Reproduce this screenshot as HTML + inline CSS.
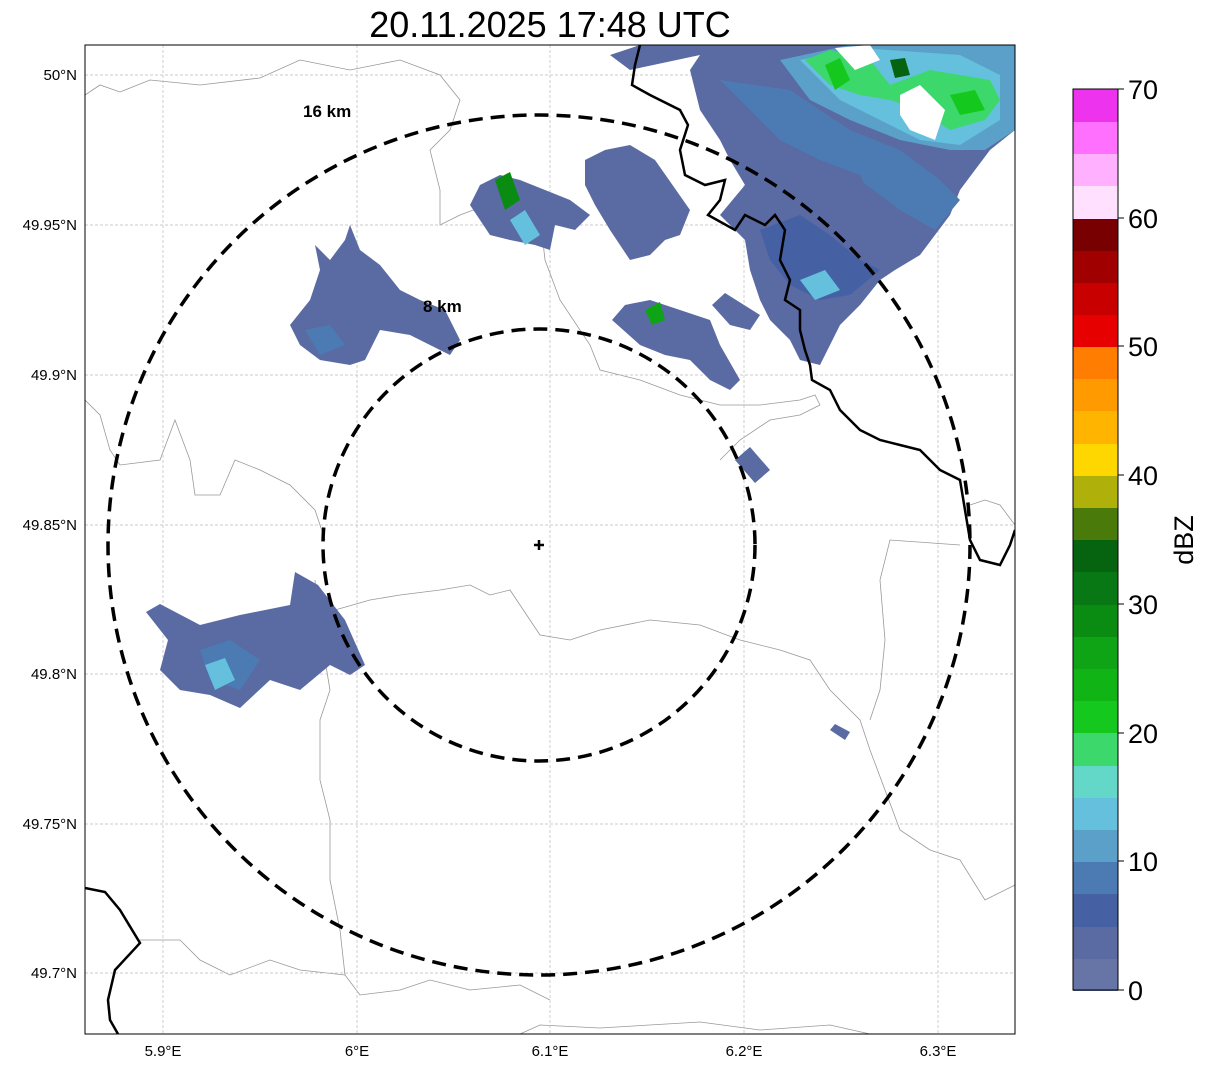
<!DOCTYPE html>
<html><head><style>
body{margin:0;background:#fff;}
svg{display:block;font-family:"Liberation Sans","DejaVu Sans",sans-serif;}
</style></head><body>
<svg width="1207" height="1069" viewBox="0 0 1207 1069" xmlns="http://www.w3.org/2000/svg">
<rect width="1207" height="1069" fill="#fff"/>
<text x="550" y="37" font-size="36" text-anchor="middle">20.11.2025 17:48 UTC</text>
<defs><clipPath id="c"><rect x="85" y="45" width="930" height="989"/></clipPath></defs>
<g clip-path="url(#c)">
<!-- thin borders -->
<g fill="none" stroke="#999" stroke-width="0.8">
<path d="M85,95 L100,85 120,92 150,80 200,85 260,78 300,60 350,70 400,60 440,75 460,100 450,130 430,150 440,190 440,225 460,215 500,200 540,215 545,260 560,300 590,345 600,370 640,380 680,395 720,405 760,405 800,400 815,395 820,405"/>
<path d="M85,400 L100,415 110,450 120,465 160,460 175,420 190,460 195,495 220,495 235,460 260,470 290,485 315,510 325,540"/>
<path d="M335,610 L370,600 400,595 440,590 470,585 490,595 510,590 520,605 540,635 570,640 600,630 650,620 700,625 740,640 780,650 810,660 830,690 860,720 870,750 885,790 900,830 930,850 960,860 985,900 1015,885"/>
<path d="M315,580 L320,630 330,690 320,720 320,780 330,820 330,880 340,930 345,975 360,995 400,990 430,980 470,990 520,985 550,1000"/>
<path d="M140,940 L180,940 200,960 230,975 270,960 300,970 345,975"/>
<path d="M720,460 L740,440 770,420 800,415 820,405"/>
<path d="M870,720 L880,690 885,640 880,580 890,540 960,545"/>
<path d="M520,1034 L540,1025 600,1028 700,1022 760,1030 830,1025 870,1034"/>
<path d="M1015,525 L1000,505 985,500 970,505"/>
</g>
<!-- gridlines -->
<g stroke="#bbb" stroke-width="0.7" stroke-dasharray="3,2">
<line x1="163" y1="45" x2="163" y2="1034"/><line x1="357" y1="45" x2="357" y2="1034"/><line x1="550" y1="45" x2="550" y2="1034"/><line x1="744" y1="45" x2="744" y2="1034"/><line x1="938" y1="45" x2="938" y2="1034"/>
<line x1="85" y1="75" x2="1015" y2="75"/><line x1="85" y1="225" x2="1015" y2="225"/><line x1="85" y1="375" x2="1015" y2="375"/><line x1="85" y1="525" x2="1015" y2="525"/><line x1="85" y1="674" x2="1015" y2="674"/><line x1="85" y1="824" x2="1015" y2="824"/><line x1="85" y1="973" x2="1015" y2="973"/>
</g>
<!-- echoes -->
<g>
<polygon fill="#5a6aa3" points="146,612 160,604 200,625 240,615 290,605 295,572 318,585 345,620 365,665 350,675 330,665 300,690 270,680 240,708 210,695 180,690 160,670 168,640"/>
<polygon fill="#4c7bb3" points="200,650 230,640 260,660 240,690 210,680"/>
<polygon fill="#64c0dc" points="205,665 225,658 235,680 215,690"/>
<polygon fill="#5a6aa3" points="290,325 310,300 320,270 315,245 330,260 345,240 350,225 360,250 380,265 400,290 420,300 445,310 460,340 450,355 430,345 410,335 380,330 365,360 350,365 320,360 300,345"/>
<polygon fill="#4c7bb3" points="305,330 330,325 345,345 320,355"/>
<polygon fill="#5a6aa3" points="470,205 480,185 500,175 520,180 545,190 570,200 590,215 575,230 555,225 550,250 535,245 510,240 490,235"/>
<polygon fill="#64c0dc" points="510,220 525,210 540,235 525,245"/>
<polygon fill="#0a8c12" points="495,180 510,172 520,200 505,210"/>
<polygon fill="#5a6aa3" points="585,160 605,150 630,145 655,160 690,210 680,235 665,240 650,255 630,260 610,230 595,205 585,185"/>
<polygon fill="#5a6aa3" points="612,320 625,305 650,300 680,310 710,320 720,345 740,380 730,390 710,380 690,360 665,355 640,345"/>
<polygon fill="#0ea416" points="645,310 660,302 665,320 652,325"/>
<polygon fill="#5a6aa3" points="712,305 725,293 760,315 750,330 730,325"/>
<polygon fill="#5a6aa3" points="735,460 750,447 770,470 755,483"/>
<polygon fill="#5a6aa3" points="830,730 835,724 850,732 845,740"/>
<polygon fill="#5a6aa3" points="610,55 640,45 1015,45 1015,130 990,150 960,190 950,215 935,235 920,255 895,270 880,280 860,305 840,325 830,345 820,365 800,360 790,340 770,320 760,300 750,270 745,240 730,225 720,215 745,185 730,160 720,140 700,110 690,70 700,55 630,70"/>
<polygon fill="#4660a4" points="760,230 800,215 830,235 860,260 880,270 850,295 820,300 790,285 770,260"/>
<polygon fill="#4c7bb3" points="720,80 790,90 850,130 900,150 940,180 960,200 935,230 900,210 860,180 820,160 780,140 750,110"/>
<polygon fill="#5aa0c8" points="780,60 850,45 1015,45 1015,130 985,150 950,150 900,140 850,120 810,100"/>
<polygon fill="#64c0dc" points="800,60 860,48 960,55 1000,75 1000,120 960,145 920,140 880,120 840,100"/>
<polygon fill="#3cd86c" points="805,60 830,50 870,60 890,85 930,70 990,80 1000,100 985,120 950,130 920,110 890,100 860,95 830,85"/>
<polygon fill="#14c81e" points="825,65 840,58 850,80 835,90"/>
<polygon fill="#14c81e" points="950,95 975,90 985,110 960,115"/>
<polygon fill="#066410" points="890,60 905,58 910,75 895,78"/>
<polygon fill="#fff" points="900,95 920,85 945,110 935,140 910,130 900,115"/>
<polygon fill="#fff" points="835,48 870,45 880,60 855,70"/>
<polygon fill="#64c0dc" points="800,280 825,270 840,290 815,300"/>
<polygon fill="#5a6aa3" points="800,170 820,160 860,175 875,210 870,240 850,250 830,230 810,200"/>
</g>
<!-- country borders -->
<g fill="none" stroke="#000" stroke-width="2.5">
<path d="M640,45 L635,65 632,85 650,95 680,110 688,125 680,150 685,175 705,185 725,180 720,200 708,215 735,230 745,215 765,225 775,215 785,230 780,260 790,280 785,300 800,310 800,330 805,350 810,365 812,380 830,390 840,410 860,430 880,440 900,445 920,450 940,470 960,480 965,510 970,540 980,560 1000,565 1010,545 1015,530"/>
<path d="M85,888 L105,892 120,910 140,943 115,970 108,1000 110,1020 118,1034"/>
</g>
<!-- range rings -->
<g fill="none" stroke="#000" stroke-width="3.5" stroke-dasharray="14,8">
<ellipse cx="539" cy="545" rx="431" ry="430"/>
<circle cx="539" cy="545" r="216"/>
</g>
<path d="M539,540 V550 M534,545 H544" stroke="#000" stroke-width="2.5"/>
<text x="303" y="117" font-size="17" font-weight="bold">16 km</text>
<text x="423" y="312" font-size="17" font-weight="bold">8 km</text>
</g>
<rect x="85" y="45" width="930" height="989" fill="none" stroke="#000" stroke-width="1"/>
<!-- axis labels -->
<g font-size="15" text-anchor="end">
<text x="77" y="80">50°N</text><text x="77" y="230">49.95°N</text><text x="77" y="380">49.9°N</text><text x="77" y="530">49.85°N</text><text x="77" y="679">49.8°N</text><text x="77" y="829">49.75°N</text><text x="77" y="978">49.7°N</text>
</g>
<g font-size="15" text-anchor="middle">
<text x="163" y="1056">5.9°E</text><text x="357" y="1056">6°E</text><text x="550" y="1056">6.1°E</text><text x="744" y="1056">6.2°E</text><text x="938" y="1056">6.3°E</text>
</g>
<!-- colorbar -->
<g>
<rect x="1073" y="958" width="45" height="33" fill="#6674a6"/>
<rect x="1073" y="926" width="45" height="33" fill="#5a6aa3"/>
<rect x="1073" y="894" width="45" height="33" fill="#4660a4"/>
<rect x="1073" y="861" width="45" height="33" fill="#4c7bb3"/>
<rect x="1073" y="829" width="45" height="33" fill="#5aa0c8"/>
<rect x="1073" y="797" width="45" height="33" fill="#64c0dc"/>
<rect x="1073" y="765" width="45" height="33" fill="#64d8c8"/>
<rect x="1073" y="733" width="45" height="33" fill="#3cd86c"/>
<rect x="1073" y="700" width="45" height="33" fill="#14c81e"/>
<rect x="1073" y="668" width="45" height="33" fill="#10b414"/>
<rect x="1073" y="636" width="45" height="33" fill="#0ea416"/>
<rect x="1073" y="604" width="45" height="33" fill="#0a8c12"/>
<rect x="1073" y="572" width="45" height="33" fill="#087814"/>
<rect x="1073" y="539" width="45" height="33" fill="#066410"/>
<rect x="1073" y="507" width="45" height="33" fill="#4a7a0a"/>
<rect x="1073" y="475" width="45" height="33" fill="#b0b00a"/>
<rect x="1073" y="443" width="45" height="33" fill="#ffd700"/>
<rect x="1073" y="411" width="45" height="33" fill="#ffb400"/>
<rect x="1073" y="378" width="45" height="33" fill="#ff9a00"/>
<rect x="1073" y="346" width="45" height="33" fill="#ff7d00"/>
<rect x="1073" y="314" width="45" height="33" fill="#e60000"/>
<rect x="1073" y="282" width="45" height="33" fill="#c80000"/>
<rect x="1073" y="250" width="45" height="33" fill="#a00000"/>
<rect x="1073" y="218" width="45" height="33" fill="#780000"/>
<rect x="1073" y="186" width="45" height="33" fill="#ffe0ff"/>
<rect x="1073" y="153" width="45" height="33" fill="#ffb0ff"/>
<rect x="1073" y="121" width="45" height="33" fill="#ff70ff"/>
<rect x="1073" y="89" width="45" height="33" fill="#ee33ee"/>
<rect x="1073" y="89" width="45" height="901" fill="none" stroke="#000" stroke-width="1"/>
<g stroke="#000" stroke-width="1"><line x1="1118" y1="990" x2="1124" y2="990"/><line x1="1118" y1="861" x2="1124" y2="861"/><line x1="1118" y1="733" x2="1124" y2="733"/><line x1="1118" y1="604" x2="1124" y2="604"/><line x1="1118" y1="475" x2="1124" y2="475"/><line x1="1118" y1="346" x2="1124" y2="346"/><line x1="1118" y1="218" x2="1124" y2="218"/><line x1="1118" y1="89" x2="1124" y2="89"/></g>
<g font-size="27"><text x="1128" y="1000">0</text><text x="1128" y="871">10</text><text x="1128" y="743">20</text><text x="1128" y="614">30</text><text x="1128" y="485">40</text><text x="1128" y="356">50</text><text x="1128" y="228">60</text><text x="1128" y="99">70</text></g>
<text transform="translate(1193,540) rotate(-90)" font-size="27" text-anchor="middle">dBZ</text>
</g>
</svg>
</body></html>
